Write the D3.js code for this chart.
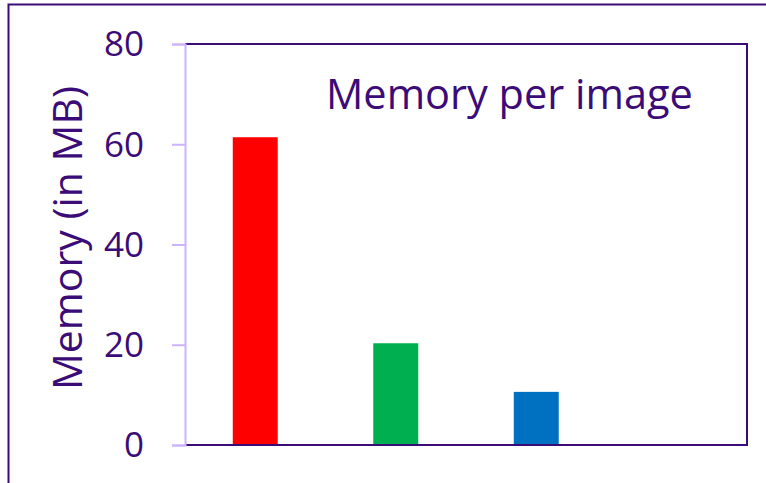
<!DOCTYPE html>
<html>
<head>
<meta charset="utf-8">
<script src="https://cdn.jsdelivr.net/npm/d3@7"></script>
<style>
  body { margin: 0; background: #fff; }
  text { font-family: "Open Sans", sans-serif; fill: #3b0c77; }
</style>
</head>
<body>
<svg id="chart" width="766" height="483"></svg>
<script>
// data
var categories = ["A", "B", "C", "D"];
var memory = [61.4, 20.3, 10.6, 0];
var barColors = ["#ff0000", "#00b050", "#0070c0", "#7030a0"];
var yTicks = [0, 20, 40, 60, 80];

var svg = d3.select("#chart");
var width = +svg.attr("width");
var height = +svg.attr("height");

var dark = "#3b0c77";
var light = "#ccb3ff";

var margin = { top: 44, right: 19, bottom: 38, left: 185 };
var innerWidth = width - margin.left - margin.right;
var innerHeight = height - margin.top - margin.bottom;

// outer frame (runs off the canvas on the right and bottom)
svg.append("rect")
  .attr("x", 8.5).attr("y", 4.5)
  .attr("width", 800).attr("height", 500)
  .attr("fill", "none")
  .attr("stroke", dark)
  .attr("stroke-width", 2);

var g = svg.append("g")
  .attr("transform", "translate(" + margin.left + "," + margin.top + ")");

var x = d3.scaleBand()
  .domain(categories)
  .range([0, innerWidth])
  .paddingInner(0.68)
  .paddingOuter(0.34);

var y = d3.scaleLinear()
  .domain([0, 80])
  .range([innerHeight, 0]);

// bars
g.selectAll("rect.bar")
  .data(memory)
  .enter()
  .append("rect")
  .attr("class", "bar")
  .attr("x", function (d, i) { return x(categories[i]); })
  .attr("y", function (d) { return y(d); })
  .attr("width", x.bandwidth())
  .attr("height", function (d) { return innerHeight - y(d); })
  .attr("fill", function (d, i) { return barColors[i]; });

// top, right, bottom borders of the plot
g.append("path")
  .attr("d", "M0," + y(80) + "H" + innerWidth + "V" + y(0) + "H0")
  .attr("fill", "none")
  .attr("stroke", dark)
  .attr("stroke-width", 2);

// y axis
var yAxis = g.append("g")
  .call(d3.axisLeft(y).tickValues(yTicks).tickSize(13).tickPadding(28));
yAxis.select(".domain").attr("stroke", light).attr("stroke-width", 2);
yAxis.selectAll(".tick line").attr("stroke", light).attr("stroke-width", 2);
yAxis.selectAll(".tick text")
  .attr("fill", dark)
  .style("font-size", "35px")
  .attr("dy", "0.34em");

// y label
svg.append("text")
  .attr("transform", "translate(82,238) rotate(-90)")
  .attr("text-anchor", "middle")
  .style("font-size", "41px")
  .text("Memory (in MB)");

// title
svg.append("text")
  .attr("x", 326)
  .attr("y", 109)
  .style("font-size", "41.5px")
  .text("Memory per image");
</script>
</body>
</html>
